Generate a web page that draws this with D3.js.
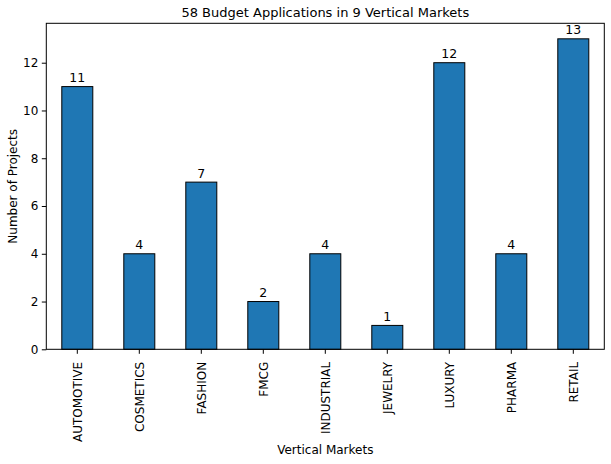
<!DOCTYPE html>
<html>
<head>
<meta charset="utf-8">
<script src="https://d3js.org/d3.v7.min.js"></script>
<style>
  body { margin: 0; background: #fff; }
  text { font-family: "DejaVu Sans", sans-serif; fill: #000; }
</style>
</head>
<body>
<div id="chart"></div>
<script>
// Données
const markets = ["AUTOMOTIVE", "COSMETICS", "FASHION", "FMCG", "INDUSTRIAL", "JEWELRY", "LUXURY", "PHARMA", "RETAIL"]
const projects = [11, 4, 7, 2, 4, 1, 12, 4, 13]
const yTicks = [0, 2, 4, 6, 8, 10, 12]

const width = 611, height = 464
const margin = {top: 23.3, right: 6.7, bottom: 114.7, left: 46.3}
const w = width - margin.left - margin.right
const h = height - margin.top - margin.bottom

const svg = d3.select("#chart").append("svg")
    .attr("width", width)
    .attr("height", height)

const g = svg.append("g")
    .attr("transform", `translate(${margin.left},${margin.top})`)

const x = d3.scaleBand()
    .domain(markets)
    .range([0, w])
    .paddingInner(0.5)
    .paddingOuter(0.25)

const y = d3.scaleLinear()
    .domain([0, d3.max(projects) * 1.05])
    .range([h, 0])

// Barres
g.selectAll("rect.bar")
  .data(markets)
  .join("rect")
    .attr("class", "bar")
    .attr("x", d => x(d))
    .attr("y", (d, i) => y(projects[i]))
    .attr("width", x.bandwidth())
    .attr("height", (d, i) => h - y(projects[i]))
    .attr("fill", "#1f77b4")
    .attr("stroke", "#000")
    .attr("stroke-width", 1)

// Étiquettes de valeur
g.selectAll("text.val")
  .data(markets)
  .join("text")
    .attr("class", "val")
    .attr("x", d => x(d) + x.bandwidth() / 2)
    .attr("y", (d, i) => y(projects[i]) - 4.5)
    .attr("text-anchor", "middle")
    .style("font-size", "12.5px")
    .text((d, i) => projects[i])

// Axes
const xAxis = g.append("g")
    .attr("transform", `translate(0,${h})`)
    .call(d3.axisBottom(x).tickSize(4.5).tickSizeOuter(0).tickPadding(3))
xAxis.select(".domain").remove()
xAxis.selectAll("text")
    .style("font-size", "12px")
    .attr("transform", "rotate(-90)")
    .attr("text-anchor", "end")
    .attr("x", -12.5)
    .attr("y", 0)
    .attr("dy", "0.35em")

const yAxis = g.append("g")
    .call(d3.axisLeft(y).tickValues(yTicks).tickSize(4.5).tickSizeOuter(0).tickPadding(3.5))
yAxis.select(".domain").remove()
yAxis.selectAll("text").style("font-size", "12px")

// Cadre
g.append("rect")
    .attr("width", w)
    .attr("height", h)
    .attr("fill", "none")
    .attr("stroke", "#000")
    .attr("stroke-width", 1)

// Titres
svg.append("text")
    .attr("x", margin.left + w / 2)
    .attr("y", 17)
    .attr("text-anchor", "middle")
    .style("font-size", "13px")
    .text("58 Budget Applications in 9 Vertical Markets")

svg.append("text")
    .attr("x", margin.left + w / 2)
    .attr("y", 454)
    .attr("text-anchor", "middle")
    .style("font-size", "12px")
    .text("Vertical Markets")

svg.append("text")
    .attr("transform", `translate(17,${margin.top + h / 2}) rotate(-90)`)
    .attr("text-anchor", "middle")
    .style("font-size", "12px")
    .text("Number of Projects")
</script>
</body>
</html>
